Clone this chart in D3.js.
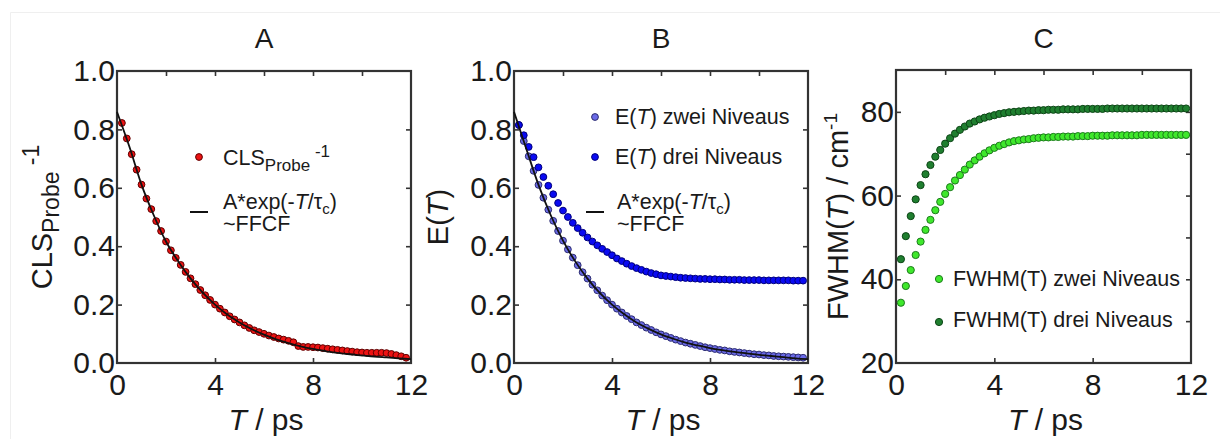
<!DOCTYPE html>
<html>
<head>
<meta charset="utf-8">
<script src="https://cdn.jsdelivr.net/npm/d3@7"></script>
<style>
  body { margin: 0; background: #fff; }
  svg text { font-family: "Liberation Sans", Arial, sans-serif; fill: #1a1a1a; }
  .tickLbl text { font-size: 30px; }
  .axis .domain { display: none; }
  .axis line { stroke: #333; stroke-width: 1.6; }
</style>
</head>
<body>
<svg id="fig" width="1220" height="439"></svg>
<script>
// time axis of the measured points (ps)
var timePs = [0.2,0.4,0.6,0.8,1.0,1.2,1.4,1.6,1.8,2.0,2.2,2.4,2.6,2.8,3.0,3.2,3.4,3.6,3.8,4.0,
  4.2,4.4,4.6,4.8,5.0,5.2,5.4,5.6,5.8,6.0,6.2,6.4,6.6,6.8,7.0,7.2,7.4,7.6,7.8,8.0,
  8.2,8.4,8.6,8.8,9.0,9.2,9.4,9.6,9.8,10.0,10.2,10.4,10.6,10.8,11.0,11.2,11.4,11.6,11.8];

var clsProbe = [0.822,0.769,0.715,0.662,0.611,0.563,0.527,0.486,0.452,0.416,
  0.386,0.360,0.336,0.312,0.290,0.270,0.250,0.232,0.216,0.200,
  0.186,0.173,0.160,0.149,0.139,0.129,0.120,0.112,0.106,0.100,
  0.094,0.089,0.084,0.080,0.076,0.071,0.058,0.055,0.055,0.054,
  0.053,0.051,0.049,0.047,0.045,0.043,0.041,0.039,0.037,0.036,
  0.035,0.035,0.035,0.035,0.034,0.031,0.027,0.023,0.018];

var eZwei = [0.815,0.760,0.708,0.658,0.610,0.566,0.525,0.487,0.452,0.419,
  0.389,0.361,0.335,0.311,0.289,0.268,0.249,0.231,0.215,0.200,
  0.186,0.173,0.161,0.150,0.139,0.130,0.121,0.113,0.105,0.098,
  0.092,0.086,0.080,0.075,0.070,0.066,0.062,0.058,0.054,0.051,
  0.048,0.045,0.043,0.040,0.038,0.036,0.034,0.032,0.030,0.029,
  0.027,0.026,0.024,0.023,0.022,0.021,0.020,0.019,0.018];

var eDrei = [0.815,0.780,0.740,0.705,0.670,0.637,0.607,0.578,0.548,0.522,
  0.500,0.480,0.462,0.446,0.430,0.416,0.403,0.391,0.380,0.369,
  0.358,0.349,0.340,0.332,0.325,0.319,0.313,0.308,0.304,0.300,
  0.298,0.296,0.294,0.292,0.291,0.290,0.289,0.288,0.288,0.287,
  0.287,0.286,0.286,0.285,0.285,0.285,0.284,0.284,0.284,0.284,
  0.283,0.283,0.283,0.283,0.283,0.283,0.282,0.282,0.282];

var fwhmZwei = [34.4,38.4,42.2,45.8,49.0,51.8,54.2,56.5,58.5,60.4,
  62.0,63.6,64.9,66.2,67.4,68.4,69.3,70.1,70.8,71.4,
  71.9,72.3,72.7,73.0,73.2,73.4,73.5,73.7,73.8,73.9,
  73.9,74.0,74.0,74.1,74.1,74.1,74.2,74.2,74.2,74.3,
  74.3,74.3,74.3,74.4,74.4,74.4,74.4,74.4,74.4,74.5,
  74.5,74.5,74.5,74.5,74.5,74.5,74.5,74.5,74.5];

var fwhmDrei = [44.8,50.3,55.1,59.1,62.5,65.1,67.3,69.3,70.9,72.4,
  73.7,74.8,75.7,76.5,77.2,77.7,78.2,78.6,78.9,79.2,
  79.5,79.7,79.9,80.0,80.1,80.2,80.3,80.3,80.4,80.4,
  80.5,80.5,80.5,80.6,80.6,80.6,80.6,80.7,80.7,80.7,
  80.7,80.7,80.8,80.8,80.8,80.8,80.8,80.8,80.8,80.8,
  80.8,80.8,80.8,80.8,80.8,80.8,80.8,80.8,80.8];

// fitted curves A*exp(-T/tau_c)
var fitTimePs = [0,0.5,1,1.5,2,2.5,3,3.5,4,4.5,5,5.5,6,6.5,7,7.5,8,8.5,9,9.5,10,10.5,11,11.5,12];
var fitA = [0.860,0.742,0.611,0.506,0.416,0.348,0.290,0.241,0.200,0.166,0.139,0.116,0.097,
  0.081,0.068,0.057,0.048,0.041,0.035,0.030,0.026,0.022,0.019,0.016,0.013];
var fitB = [0.860,0.734,0.610,0.506,0.419,0.348,0.289,0.240,0.200,0.167,0.139,0.117,0.098,
  0.083,0.070,0.060,0.051,0.044,0.038,0.033,0.028,0.024,0.020,0.016,0.013];

var xTicks = [0, 4, 8, 12];
var xTopTicks = [2, 4, 6, 8, 10];
var yTicksE = [0, 0.2, 0.4, 0.6, 0.8, 1.0];
var yTicksFwhm = [20, 40, 60, 80];
var yRightFwhm = [30, 40, 50, 60, 70, 80];

var svg = d3.select("#fig");

// faint outer frame of the figure
svg.append("path").attr("d", "M10.5,439 V12.5 H1220").attr("fill", "none").attr("stroke", "#efefef");

function zip(xs, ys) {
  return xs.map(function (t, i) { return { t: t, v: ys[i] }; });
}

function drawPanel(p) {
  var w = p.right - p.left, h = p.bottom - p.top;
  var x = d3.scaleLinear().domain([0, 12]).range([0, w]);
  var y = d3.scaleLinear().domain(p.yDomain).range([h, 0]);
  var g = svg.append("g").attr("transform", "translate(" + p.left + "," + p.top + ")");

  g.append("g").attr("class", "axis tickLbl").attr("transform", "translate(0," + h + ")")
    .call(d3.axisBottom(x).tickValues(xTicks).tickSizeInner(-5).tickSizeOuter(0).tickPadding(11)
      .tickFormat(d3.format("d")));
  g.append("g").attr("class", "axis")
    .call(d3.axisTop(x).tickValues(xTopTicks).tickSizeInner(-5).tickSizeOuter(0).tickFormat(""));
  g.append("g").attr("class", "axis tickLbl")
    .call(d3.axisLeft(y).tickValues(p.yTicks).tickSizeInner(-5).tickSizeOuter(0).tickPadding(2)
      .tickFormat(p.yFormat));
  g.append("g").attr("class", "axis").attr("transform", "translate(" + w + ",0)")
    .call(d3.axisRight(y).tickValues(p.yRight).tickSizeInner(-5).tickSizeOuter(0).tickFormat(""));
  g.selectAll(".tickLbl .tick line").filter(function (d) { return d === 0 || d === 12 || d === 20 || d === 1; }).remove();

  g.append("rect").attr("width", w).attr("height", h)
    .attr("fill", "none").attr("stroke", "#333").attr("stroke-width", 2.2);

  p.series.forEach(function (s) {
    g.append("g").selectAll("circle").data(zip(timePs, s.values)).enter().append("circle")
      .attr("cx", function (d) { return x(d.t); })
      .attr("cy", function (d) { return y(d.v); })
      .attr("r", p.r)
      .attr("fill", s.fill).attr("stroke", s.stroke).attr("stroke-width", 1);
  });

  if (p.fit) {
    g.append("path").datum(zip(fitTimePs, p.fit))
      .attr("fill", "none").attr("stroke", "#111").attr("stroke-width", 1.8)
      .attr("d", d3.line().curve(d3.curveMonotoneX)
        .x(function (d) { return x(d.t); }).y(function (d) { return y(d.v); }));
  }

  // panel letter
  svg.append("text").attr("x", (p.left + p.right) / 2).attr("y", 48)
    .attr("text-anchor", "middle").attr("font-size", 28).text(p.letter);

  // x title
  var xt = svg.append("text").attr("x", (p.left + p.right) / 2 + 2).attr("y", 430)
    .attr("text-anchor", "middle").attr("font-size", 30);
  xt.append("tspan").attr("font-style", "italic").text("T");
  xt.append("tspan").text(" / ps");

  // y title
  var yt = svg.append("text").attr("transform", "translate(" + p.yTitleX + "," + (p.top + h / 2) + ") rotate(-90)")
    .attr("text-anchor", "middle").attr("font-size", 29);
  p.yTitle(yt);

  // legend
  var lg = svg.append("g");
  p.legend.forEach(function (l) {
    if (l.type === "dot") {
      lg.append("circle").attr("cx", l.mx).attr("cy", l.my).attr("r", p.r)
        .attr("fill", l.fill).attr("stroke", l.stroke).attr("stroke-width", 1);
    } else {
      lg.append("line").attr("x1", l.mx - 9).attr("x2", l.mx + 9).attr("y1", l.my).attr("y2", l.my)
        .attr("stroke", "#111").attr("stroke-width", 2);
    }
    var t = lg.append("text").attr("x", l.tx).attr("y", l.ty).attr("font-size", 21.5);
    l.label(t);
  });
}

function fitLabel(t, tx, ty) {
  t.append("tspan").text("A*exp(-");
  t.append("tspan").attr("font-style", "italic").text("T");
  t.append("tspan").text("/τ");
  t.append("tspan").attr("font-size", 15).attr("dy", 5).text("c");
  t.append("tspan").attr("dy", -5).text(")");
  t.append("tspan").attr("x", tx).attr("y", ty + 22).text("~FFCF");
}

function eLabel(word) {
  return function (t) {
    t.append("tspan").text("E(");
    t.append("tspan").attr("font-style", "italic").text("T");
    t.append("tspan").text(") " + word + " Niveaus");
  };
}

var fmt1 = d3.format(".1f");

drawPanel({
  letter: "A", left: 117, right: 411, top: 71, bottom: 363, r: 3.4,
  yDomain: [0, 1], yTicks: yTicksE, yRight: [0.2, 0.4, 0.6, 0.8], yFormat: fmt1,
  series: [{ values: clsProbe, fill: "#ec1212", stroke: "#5e0000" }],
  fit: fitA, yTitleX: 52,
  yTitle: function (t) {
    t.append("tspan").text("CLS");
    t.append("tspan").attr("font-size", 23).attr("dy", 7).text("Probe");
    t.append("tspan").attr("font-size", 23).attr("dy", -20).text(" -1");
  },
  legend: [
    { type: "dot", mx: 199, my: 157, fill: "#ec1212", stroke: "#5e0000", tx: 223, ty: 165,
      label: function (t) {
        t.append("tspan").text("CLS");
        t.append("tspan").attr("font-size", 17).attr("dy", 6).text("Probe");
        t.append("tspan").attr("font-size", 17).attr("dy", -14).text(" -1");
      } },
    { type: "line", mx: 199, my: 212, tx: 223, ty: 209,
      label: function (t) { fitLabel(t, 223, 209); } }
  ]
});

drawPanel({
  letter: "B", left: 514, right: 808, top: 71, bottom: 363, r: 3.4,
  yDomain: [0, 1], yTicks: yTicksE, yRight: [0.2, 0.4, 0.6, 0.8], yFormat: fmt1,
  series: [
    { values: eZwei, fill: "#6a6ae8", stroke: "#2c2c6e" },
    { values: eDrei, fill: "#0a0af2", stroke: "#00007c" }
  ],
  fit: fitB, yTitleX: 448,
  yTitle: function (t) {
    t.append("tspan").text("E(");
    t.append("tspan").attr("font-style", "italic").text("T");
    t.append("tspan").text(")");
  },
  legend: [
    { type: "dot", mx: 595, my: 117, fill: "#6a6ae8", stroke: "#2c2c6e", tx: 615, ty: 124, label: eLabel("zwei") },
    { type: "dot", mx: 595, my: 157, fill: "#0a0af2", stroke: "#00007c", tx: 615, ty: 164, label: eLabel("drei") },
    { type: "line", mx: 595, my: 212, tx: 617, ty: 209,
      label: function (t) { fitLabel(t, 617, 209); } }
  ]
});

drawPanel({
  letter: "C", left: 896, right: 1191, top: 70, bottom: 363, r: 3.6,
  yDomain: [20, 90], yTicks: yTicksFwhm, yRight: yRightFwhm, yFormat: d3.format("d"),
  series: [
    { values: fwhmZwei, fill: "#3fe82c", stroke: "#1c7a1c" },
    { values: fwhmDrei, fill: "#1f7f2f", stroke: "#0d4516" }
  ],
  fit: null, yTitleX: 848,
  yTitle: function (t) {
    t.append("tspan").text("FWHM(");
    t.append("tspan").attr("font-style", "italic").text("T");
    t.append("tspan").text(") / cm");
    t.append("tspan").attr("font-size", 19).attr("dy", -11).text("-1");
  },
  legend: [
    { type: "dot", mx: 939, my: 279, fill: "#3fe82c", stroke: "#1c7a1c", tx: 953, ty: 286,
      label: function (t) { t.text("FWHM(T) zwei Niveaus"); } },
    { type: "dot", mx: 939, my: 322, fill: "#1f7f2f", stroke: "#0d4516", tx: 953, ty: 327,
      label: function (t) { t.text("FWHM(T) drei Niveaus"); } }
  ]
});
</script>
</body>
</html>
